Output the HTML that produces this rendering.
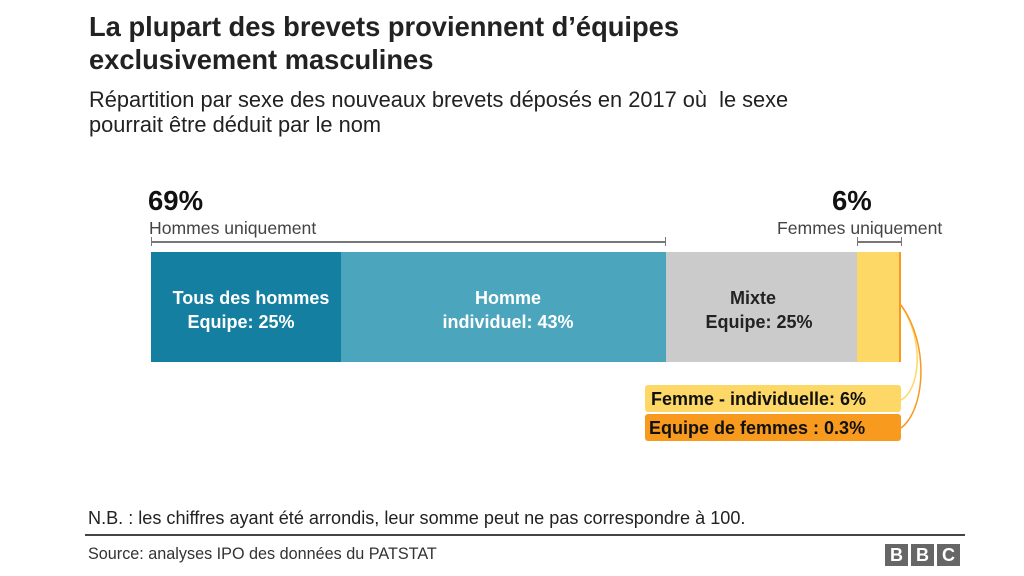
<!DOCTYPE html>
<html><head><meta charset="utf-8"><style>
body{margin:0;width:1024px;height:576px;background:#fff;position:relative;overflow:hidden;font-family:"Liberation Sans",Arial,sans-serif;color:#222}
div{position:absolute;white-space:nowrap}
.t{font-weight:bold;font-size:27.3px;left:89px;color:#222}
.s{font-size:21.8px;left:89px;color:#222}
.seg{top:252px;height:110px}
.lab{font-weight:bold;font-size:18px;text-align:center;line-height:24px}
</style></head><body>
<div class="t" style="top:11px">La plupart des brevets proviennent d’équipes</div>
<div class="t" style="top:44px">exclusivement masculines</div>
<div class="s" style="top:87px">Répartition par sexe des nouveaux brevets déposés en 2017 où &nbsp;le sexe</div>
<div class="s" style="top:112px">pourrait être déduit par le nom</div>

<div style="left:148px;top:185px;font-size:27.5px;font-weight:bold;color:#111">69%</div>
<div style="left:149px;top:218px;font-size:17.6px;color:#444">Hommes uniquement</div>
<div style="left:151px;top:241px;width:515px;height:2px;background:#777"></div>
<div style="left:151px;top:237px;width:1px;height:9px;background:#777"></div>
<div style="left:665px;top:237px;width:1px;height:9px;background:#777"></div>

<div style="left:832px;top:185px;font-size:27.5px;font-weight:bold;color:#111">6%</div>
<div style="left:777px;top:218px;font-size:17.6px;color:#444">Femmes uniquement</div>
<div style="left:857px;top:241px;width:44px;height:2px;background:#777"></div>
<div style="left:857px;top:237px;width:1px;height:9px;background:#777"></div>
<div style="left:901px;top:237px;width:1px;height:9px;background:#777"></div>

<div class="seg" style="left:151px;width:190px;background:#157fa1"></div>
<div class="seg" style="left:341px;width:325px;background:#4ba5bc"></div>
<div class="seg" style="left:666px;width:191px;background:#cbcbcb"></div>
<div class="seg" style="left:857px;width:42px;background:#fdd866"></div>
<div class="seg" style="left:899px;width:2px;background:#f79a1e"></div>

<div class="lab" style="left:151px;top:286px;width:200px;color:#fff">Tous des hommes</div>
<div class="lab" style="left:141px;top:310px;width:200px;color:#fff">Equipe: 25%</div>
<div class="lab" style="left:358px;top:286px;width:300px;color:#fff">Homme<br>individuel: 43%</div>
<div class="lab" style="left:653px;top:286px;width:200px;color:#222">Mixte</div>
<div class="lab" style="left:659px;top:310px;width:200px;color:#222">Equipe: 25%</div>

<svg style="position:absolute;left:0;top:0" width="1024" height="576">
<path d="M901 305 C 925 340, 920 390, 901 400" fill="none" stroke="#fdd866" stroke-width="1.5"/>
<path d="M901 305 C 930 345, 925 410, 901 428" fill="none" stroke="#f79a1e" stroke-width="1.5"/>
</svg>
<div style="left:645px;top:385px;width:256px;height:27px;background:#fdd866;border-radius:3px"></div>
<div style="left:645px;top:414px;width:256px;height:27px;background:#f79a1e;border-radius:3px"></div>
<div style="left:651px;top:389px;font-size:18px;font-weight:bold;color:#111">Femme - individuelle: 6%</div>
<div style="left:649px;top:418px;font-size:18px;font-weight:bold;color:#111">Equipe de femmes : 0.3%</div>

<div style="left:88px;top:508px;font-size:18.1px;color:#222">N.B. : les chiffres ayant été arrondis, leur somme peut ne pas correspondre à 100.</div>
<div style="left:85px;top:534px;width:880px;height:2px;background:#444"></div>
<div style="left:88px;top:545px;font-size:16.2px;color:#333">Source: analyses IPO des données du PATSTAT</div>
<div style="left:885px;top:544px;width:23px;height:22px;background:#666;color:#fff;font-weight:bold;font-size:18px;text-align:center;line-height:22px">B</div>
<div style="left:911px;top:544px;width:23px;height:22px;background:#666;color:#fff;font-weight:bold;font-size:18px;text-align:center;line-height:22px">B</div>
<div style="left:937px;top:544px;width:23px;height:22px;background:#666;color:#fff;font-weight:bold;font-size:18px;text-align:center;line-height:22px">C</div>
</body></html>
